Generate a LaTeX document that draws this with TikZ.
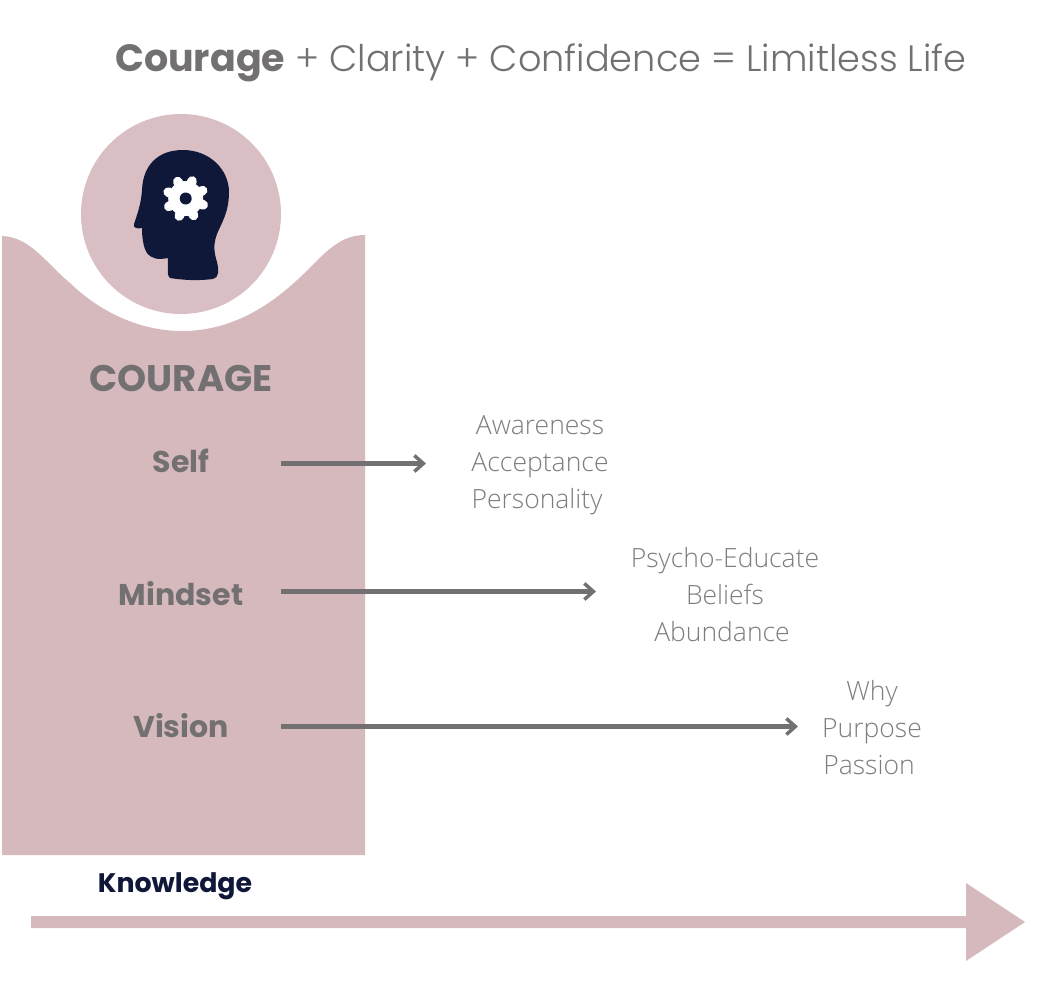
\documentclass[tikz,border=0pt]{standalone}
\usepackage{fontspec}
\setmainfont{Poppins}
\newfontfamily\lightfont{Open Sans Light}
\newfontfamily\titlefont{Poppins Light}
\newfontfamily\boldfont{Poppins Bold}
\usetikzlibrary{arrows.meta}
\definecolor{pinkbody}{HTML}{D5B9BC}
\definecolor{pinkcircle}{HTML}{D9BFC3}
\definecolor{navy}{HTML}{10183A}
\definecolor{greytext}{HTML}{737071}
\definecolor{greylight}{HTML}{7F7C7D}
\newcommand{\shiftpad}{\rule{6pt}{0pt}}
\tikzset{
  x=1pt,y=-1pt,
  titletext/.style={font=\titlefont\fontsize{36.7}{44}\selectfont,text=greytext,inner sep=0pt,anchor=base west},
  headtext/.style={font=\boldfont\fontsize{30}{35}\selectfont,text=greytext,inner sep=0pt},
  listtext/.style={font=\lightfont\fontsize{26.5}{37}\selectfont,text=greylight,inner sep=0pt,align=center},
  conn/.style={draw=greytext,line width=5pt,-{Straight Barb[length=9pt,width=16pt,line width=3.5pt]}},
}
\begin{document}
\begin{tikzpicture}
\useasboundingbox (0,0) rectangle (1041,1007);
% title
\node[titletext] (title) at (115,71) {{\boldfont\fontsize{38}{44}\selectfont Courage} + Clarity + Confidence = Limitless Life};
% pink body
\fill[pinkbody] (2,236) .. controls (30,237) and (45,262) .. (70,283)
  .. controls (100,312) and (140,331) .. (182,331)
  .. controls (225,331) and (262,312) .. (295,282)
  .. controls (320,260) and (335,235) .. (365,235)
  -- (365,855) -- (2,855) -- cycle;
% circle
\fill[pinkcircle] (181,214) circle[radius=100];
% head
\fill[navy] (183,150) .. controls (210,150) and (229,170) .. (229,192)
  .. controls (229,212) and (222,222) .. (217,234)
  .. controls (213,245) and (214,252) .. (217,262)
  .. controls (219,270) and (219,278) .. (213,279)
  .. controls (198,281) and (182,280) .. (170,278)
  .. controls (167,277) and (168,268) .. (168,258)
  .. controls (158,260) and (152,259) .. (147,253)
  .. controls (143,247) and (142,236) .. (142,228)
  .. controls (137,229) and (133,228) .. (134,224)
  .. controls (138,212) and (141,204) .. (142,190)
  .. controls (143,165) and (158,150) .. (183,150) -- cycle;
% gear
\fill[white] (185.7,198.5) circle[radius=17.5];
\foreach \a in {0,45,...,315}{
  \draw[white,line width=9.5pt,line cap=round] (185.7,198.5) ++(\a+20:15) -- ++(\a+20:3.7);
}
\fill[navy] (185.7,198.5) circle[radius=6];
% labels
\node[headtext,font=\boldfont\fontsize{37}{43}\selectfont] (courage) at (181,378) {COURAGE};
\node[headtext] (self) at (181,461) {Self};
\node[headtext] (mindset) at (181,594) {Mindset};
\node[headtext] (vision) at (181,726) {Vision};
\node[listtext] (list1) at (540,465) {Awareness\\Acceptance\\Personality\shiftpad};
\node[listtext] (list2) at (725,595) {Psycho-Educate\\Beliefs\\Abundance\shiftpad};
\node[listtext] (list3) at (872,728) {Why\\Purpose\\Passion\shiftpad};
% connectors
\coordinate (s1) at (281,463.5); \coordinate (e1) at (426,463.5);
\coordinate (s2) at (281,591.5); \coordinate (e2) at (596,591.5);
\coordinate (s3) at (281,726.5); \coordinate (e3) at (798,726.5);
\draw[conn] (s1) -- (e1);
\draw[conn] (s2) -- (e2);
\draw[conn] (s3) -- (e3);
% knowledge
\node[headtext,text=navy,font=\boldfont\fontsize{26.8}{31}\selectfont] (knowledge) at (175,886) {Knowledge};
\fill[pinkbody] (31,916) -- (966,916) -- (966,883) -- (1025,922) -- (966,961) -- (966,928) -- (31,928) -- cycle;
\end{tikzpicture}
\end{document}
